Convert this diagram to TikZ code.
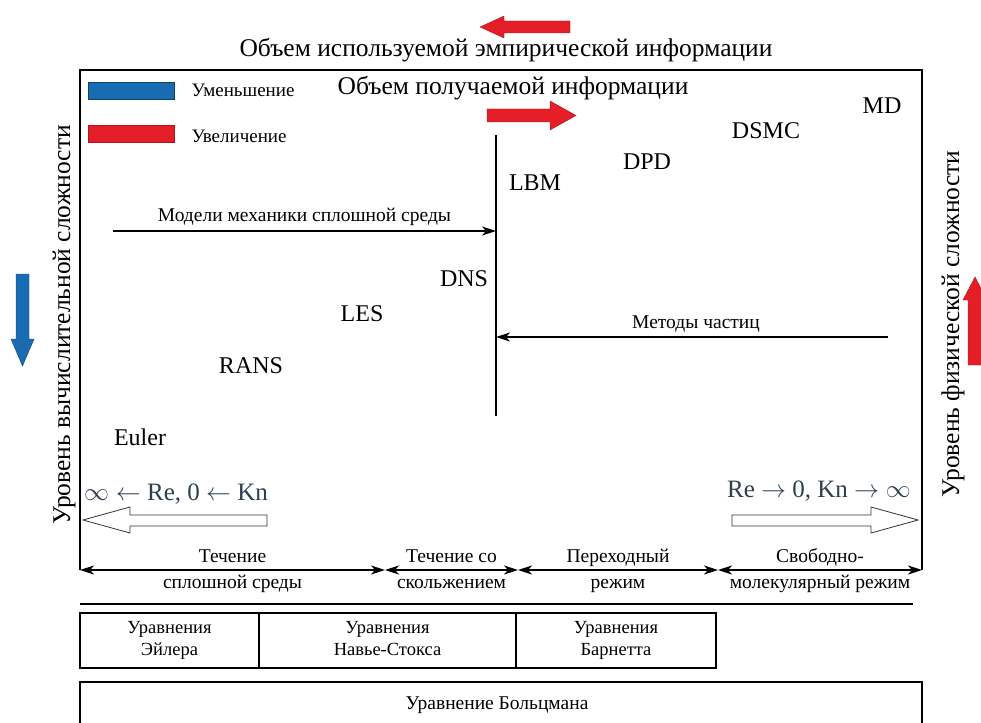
\documentclass[tikz,border=0pt]{standalone}
\usepackage{fontspec}
\setmainfont{Liberation Serif}
\usetikzlibrary{arrows.meta,positioning}
\definecolor{arrred}{RGB}{228,30,38}
\definecolor{arrblue}{RGB}{25,108,178}
\definecolor{limtext}{RGB}{45,62,80}

\begin{document}
\begin{tikzpicture}[x=1pt,y=-1pt,
  heading/.style={font=\fontsize{25.5}{28}\selectfont},
  method/.style={font=\fontsize{24}{26}\selectfont},
  legend/.style={font=\fontsize{19}{22}\selectfont,anchor=west},
  small/.style={font=\fontsize{19.5}{22}\selectfont},
  regime/.style={font=\fontsize{19.5}{26}\selectfont,align=center},
  eqcell/.style={draw,line width=1.2pt,minimum height=55pt,align=center,inner sep=0pt,
    outer sep=0pt,font=\fontsize{18.5}{22}\selectfont},
  limit/.style={font=\fontsize{25}{28}\selectfont,text=limtext},
  axis/.style={-{Stealth[length=14pt,width=9pt,inset=4pt]},line width=1.1pt},
  span/.style={{Stealth[length=14pt,width=9pt,inset=4pt]}-{Stealth[length=14pt,width=9pt,inset=4pt]},line width=1.1pt},
  redblock/.style={fill=arrred,draw=arrred!75!black},
  blueblock/.style={fill=arrblue,draw=arrblue!60!black},
  hollow/.style={draw=black!80,fill=white,line width=0.8pt}
]
  \useasboundingbox (0,0) rectangle (981,722);

  % top headings
  \filldraw[redblock] (480,27) -- (504,16) -- (504,21) -- (570,21) -- (570,33)
    -- (504,33) -- (504,38) -- cycle;
  \node[heading] (usedinfo) at (506,50) {Объем используемой эмпирической информации};

  % frame
  \draw[line width=1.2pt] (80,570) |- (922,70) -- (922,570);

  % legend
  \filldraw[blueblock] (88,82) rectangle (174,99);
  \filldraw[redblock] (88,125) rectangle (174,142);
  \node[legend] (decr) at (188,90) {Уменьшение};
  \node[legend] (incr) at (188,136) {Увеличение};

  \node[heading] (gotinfo) at (513,88) {Объем получаемой информации};
  \filldraw[redblock] (487,109) -- (550,109) -- (550,101) -- (576,115.5)
    -- (550,130) -- (550,122) -- (487,122) -- cycle;

  % methods
  \node[method] (md)    at (882,106) {MD};
  \node[method] (dsmc)  at (766,131) {DSMC};
  \node[method] (dpd)   at (647,162) {DPD};
  \node[method] (lbm)   at (535,183) {LBM};
  \node[method] (dns)   at (464,279) {DNS};
  \node[method] (les)   at (362,314) {LES};
  \node[method] (rans)  at (251,366) {RANS};
  \node[method] (euler) at (140,437) {Euler};

  % central divide and approach arrows
  \coordinate (divtop) at (496,135);
  \coordinate (divbot) at (496,416);
  \draw[line width=1.1pt] (divtop) -- (divbot);
  \coordinate (contstart) at (113,231);
  \coordinate (contend) at (496,231);
  \coordinate (partstart) at (888,337);
  \coordinate (partend) at (496,337);
  \draw[axis] (contstart) -- node[small,above=1pt] {Модели механики сплошной среды} (contend);
  \draw[axis] (partstart) -- node[small,above=1pt,xshift=4pt] {Методы частиц} (partend);

  % limits
  \node[limit] (toleft)  at (176,494) {$\infty\leftarrow$ Re, 0 $\leftarrow$ Kn};
  \node[limit] (toright) at (819,491) {Re $\rightarrow$ 0, Kn $\rightarrow\infty$};
  \filldraw[hollow] (83,520) -- (130,507) -- (130,515) -- (267,515) -- (267,526)
    -- (130,526) -- (130,533) -- cycle;
  \filldraw[hollow] (918,520) -- (871,507) -- (871,515) -- (732,515) -- (732,526)
    -- (871,526) -- (871,533) -- cycle;

  % regimes
  \coordinate (r0) at (80,570);
  \coordinate (r1) at (385,570);
  \coordinate (r2) at (518,570);
  \coordinate (r3) at (718,570);
  \coordinate (r4) at (922,570);
  \draw[span] (r0) -- node[regime] {Течение\strut\\сплошной среды\strut} (r1);
  \draw[span] (r1) -- node[regime] {Течение со\strut\\скольжением\strut} (r2);
  \draw[span] (r2) -- node[regime] {Переходный\strut\\режим\strut} (r3);
  \draw[span] (r3) -- node[regime] {Свободно-\strut\\молекулярный режим\strut} (r4);

  % side axes
  \node[heading,rotate=90] (compl) at (64,325) {Уровень вычислительной сложности};
  \filldraw[blueblock] (16,274) -- (29,274) -- (29,339) -- (34,339) -- (22.5,366)
    -- (11,339) -- (16,339) -- cycle;
  \node[heading,rotate=90] (physl) at (953,324) {Уровень физической сложности};
  \filldraw[redblock] (968,365) -- (968,300) -- (963,300) -- (975,277)
    -- (987,300) -- (982,300) -- (982,365) -- cycle;

  % equations
  \draw[line width=1.2pt] (80,604) -- (913,604);
  \node[eqcell,minimum width=179pt] (eulereq) at (169.5,640.5) {Уравнения\strut\\Эйлера\strut};
  \node[eqcell,minimum width=257pt,right=0pt of eulereq] (nseq) {Уравнения\strut\\Навье-Стокса\strut};
  \node[eqcell,minimum width=200pt,right=0pt of nseq] (burnett) {Уравнения\strut\\Барнетта\strut};
  \draw[line width=1.2pt] (80,760) |- (922,682) -- (922,760);
  \node[small] (boltz) at (497,705) {Уравнение Больцмана};
\end{tikzpicture}
\end{document}
